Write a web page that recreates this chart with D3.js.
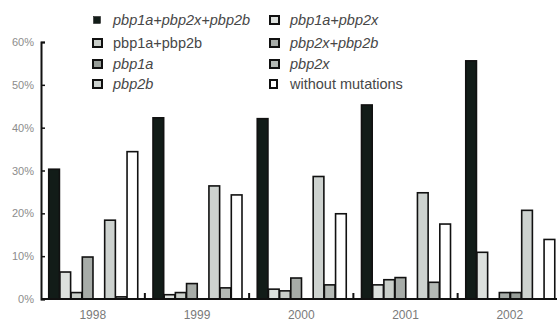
<!DOCTYPE html>
<html>
<head>
<meta charset="utf-8">
<script src="https://cdn.jsdelivr.net/npm/d3@7"></script>
<style>
  body { margin: 0; background: #fff; }
  svg { display: block; font-family: "Liberation Sans", Arial, sans-serif; }
</style>
</head>
<body>
<div id="chart"></div>
<script>
const years = ["1998", "1999", "2000", "2001", "2002"];
const seriesNames = ["pbp1a+pbp2x+pbp2b", "pbp1a+pbp2x", "pbp1a+pbp2b", "pbp2x+pbp2b",
                     "pbp1a", "pbp2b", "pbp2x", "without mutations"];
// percentage per year, one array per series
const tripleMut  = [30.3, 42.3, 42.1, 45.3, 55.6];
const p1aP2x     = [6.3, 1.0, 2.3, 3.3, 10.9];
const p1aP2b     = [1.5, 1.5, 1.9, 4.5, 0];
const p2xP2b     = [9.8, 3.6, 4.9, 5.0, 1.5];
const p1aOnly    = [0, 0, 0, 0, 1.5];
const p2bOnly    = [18.4, 26.4, 28.6, 24.8, 20.7];
const p2xOnly    = [0.5, 2.6, 3.3, 3.9, 0];
const noMut      = [34.4, 24.3, 19.9, 17.5, 13.9];
const yTicks = [0, 10, 20, 30, 40, 50, 60];

const allValues = [tripleMut, p1aP2x, p1aP2b, p2xP2b, p1aOnly, p2bOnly, p2xOnly, noMut];
const fills = ["#121c18", "#dde1de", "#c9cec9", "#a7aca8", "#979d98", "#cdd2cf", "#b4b9b5", "#ffffff"];
const italic = [true, true, false, true, true, true, true, false];

const width = 557, height = 325;
const svg = d3.select("#chart").append("svg")
    .attr("width", width)
    .attr("height", height);

const y = d3.scaleLinear().domain([0, 60]).range([299, 42]);

const x = d3.scaleBand()
    .domain(years)
    .range([41, 561.5])
    .paddingInner(0.1415)
    .paddingOuter(0.067);

const xs = d3.scaleBand()
    .domain(d3.range(seriesNames.length))
    .range([0, x.bandwidth()]);

// bars
const groups = svg.selectAll(".year")
    .data(years)
    .enter().append("g")
    .attr("class", "year")
    .attr("transform", d => `translate(${x(d)},0)`);

groups.selectAll("rect")
    .data((yr, i) => allValues.map((vals, s) => ({ s: s, v: vals[i] })).filter(d => d.v > 0))
    .enter().append("rect")
    .attr("x", d => xs(d.s) + 0.75)
    .attr("width", xs.bandwidth() - 0.5)
    .attr("y", d => y(d.v))
    .attr("height", d => y(0) - y(d.v))
    .attr("fill", d => fills[d.s])
    .attr("stroke", "#111")
    .attr("stroke-width", 1.6);

// y axis
const yAxis = svg.append("g")
    .attr("transform", "translate(41,0)")
    .call(d3.axisLeft(y).tickValues(yTicks).tickFormat(d => d + "%").tickSize(-4).tickPadding(7));
yAxis.select(".domain").attr("stroke", "#111").attr("stroke-width", 2);
yAxis.selectAll(".tick line").attr("stroke", "#111").attr("stroke-width", 1.5);
yAxis.selectAll(".tick text")
    .attr("fill", "#8c8c8c")
    .style("font-size", "11px")
    .style("font-family", "'Liberation Sans', Arial, sans-serif");

// x axis (year labels, no ticks)
const xAxis = svg.append("g")
    .attr("transform", `translate(0,${y(0)})`)
    .call(d3.axisBottom(x).tickSize(0).tickPadding(11));
xAxis.select(".domain").attr("stroke", "#111").attr("stroke-width", 2)
    .attr("d", `M41,0H${width}`);
xAxis.selectAll(".tick text")
    .attr("fill", "#7a7a7a")
    .style("font-size", "12px")
    .style("font-family", "'Liberation Sans', Arial, sans-serif");

// small separator ticks between year groups
const gap = x.step() * x.paddingInner();
svg.selectAll(".sep")
    .data(years.slice(0, -1))
    .enter().append("line")
    .attr("class", "sep")
    .attr("x1", d => x(d) + x.bandwidth() + gap / 2)
    .attr("x2", d => x(d) + x.bandwidth() + gap / 2)
    .attr("y1", y(0))
    .attr("y2", y(0) - 6)
    .attr("stroke", "#111")
    .attr("stroke-width", 2);

// legend: two columns, four rows
const legendCols = [93, 270];
const legendRows = [20, 43, 64, 84];
const legendOrder = [0, 1, 2, 3, 4, 6, 5, 7];  // reading order left->right, top->bottom
const legend = svg.selectAll(".legend")
    .data(legendOrder)
    .enter().append("g")
    .attr("class", "legend")
    .attr("transform", (s, i) => `translate(${legendCols[i % 2]},${legendRows[Math.floor(i / 2)]})`);

legend.append("rect")
    .attr("x", s => s === 0 ? 0.5 : 0)
    .attr("y", s => s === 0 ? -3.5 : s === 7 ? -4 : -4)
    .attr("width", s => s === 0 ? 7 : s === 7 ? 7 : 9)
    .attr("height", s => s === 0 ? 7 : 8)
    .attr("fill", s => fills[s])
    .attr("stroke", "#111")
    .attr("stroke-width", s => s === 0 ? 0.5 : 2);

legend.append("text")
    .attr("x", 20)
    .attr("y", 5)
    .attr("fill", "#474747")
    .style("font-size", "14.5px")
    .style("font-style", s => italic[s] ? "italic" : "normal")
    .text(s => seriesNames[s]);
</script>
</body>
</html>
